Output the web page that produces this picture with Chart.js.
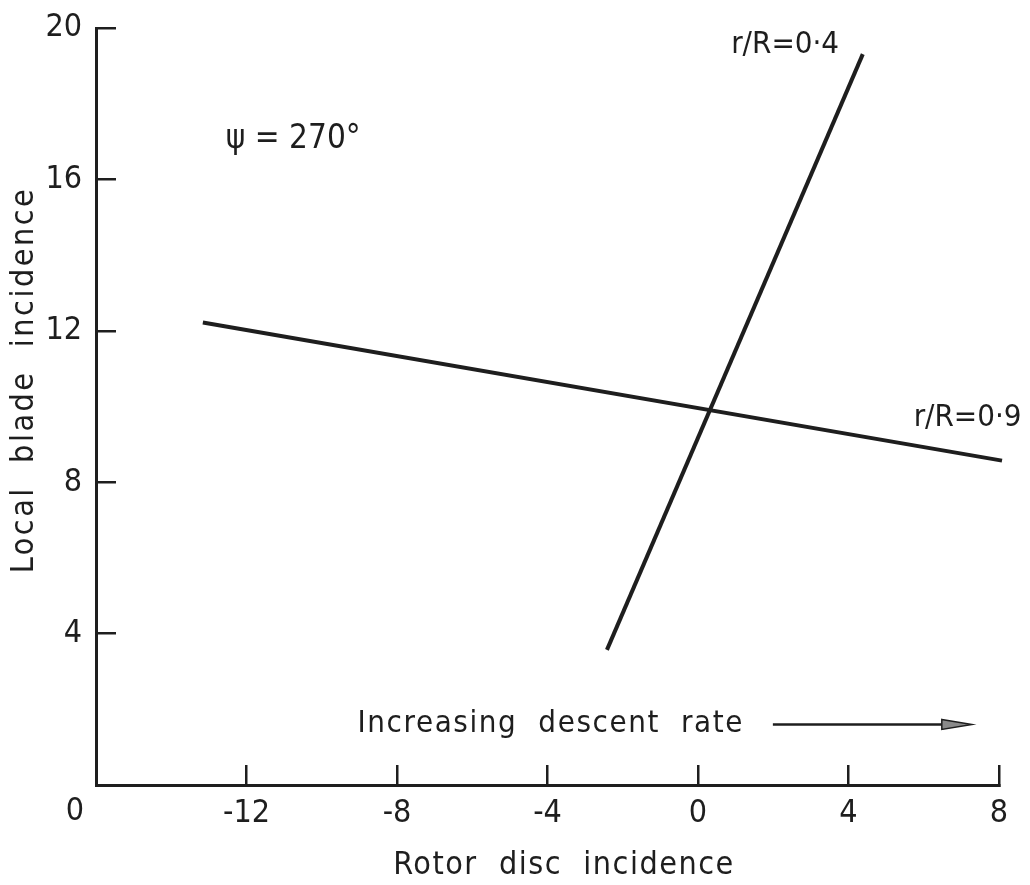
<!DOCTYPE html>
<html>
<head>
<meta charset="utf-8">
<title>Local blade incidence vs rotor disc incidence</title>
<script src="https://cdn.jsdelivr.net/npm/chart.js@4.4.0/dist/chart.umd.min.js"></script>
<style>
  html, body { margin: 0; padding: 0; background: #fff; }
  #wrap { width: 1030px; height: 885px; }
</style>
</head>
<body>
<div id="wrap"><canvas id="c" width="1030" height="885"></canvas></div>
<script>
// Rotor disc incidence (deg), x axis tick values
const xTickValues = [-12, -8, -4, 0, 4, 8];
// Local blade incidence (deg), y axis tick values
const yTickValues = [4, 8, 12, 16, 20];

// Blade station r/R = 0.9
const outerX = [-13.16, 8.08];
const outerY = [12.22, 8.57];
// Blade station r/R = 0.4
const innerX = [-2.42, 4.38];
const innerY = [3.57, 19.31];

const seriesNames = ['r/R=0·9', 'r/R=0·4'];

const FONT = "'Liberation Sans Narrow', 'DejaVu Sans Condensed', Roboto, sans-serif";
const INK = '#1e1e1e';

function toPoints(xs, ys) {
  return xs.map((x, i) => ({ x: x, y: ys[i] }));
}

// Text and the descent-rate arrow, placed in data units through the scales
const notes = {
  id: 'notes',
  afterDraw(chart) {
    const ctx = chart.ctx;
    const xs = chart.scales.x, ys = chart.scales.y;
    const area = chart.chartArea;
    const px = v => xs.getPixelForValue(v);
    const py = v => ys.getPixelForValue(v);
    ctx.save();
    ctx.fillStyle = INK;
    ctx.textBaseline = 'middle';

    // origin label shared by both axes
    ctx.font = '32px ' + FONT;
    ctx.textAlign = 'center';
    ctx.fillText('0', area.left - 21, area.bottom + 27);

    // axis titles
    ctx.font = '32px ' + FONT;
    ctx.letterSpacing = '1.5px';
    ctx.fillText('Rotor  disc  incidence', 564, area.bottom + 81);
    ctx.save();
    ctx.translate(25, 380);
    ctx.rotate(-Math.PI / 2);
    ctx.letterSpacing = '2.5px';
    ctx.fillText('Local  blade  incidence', 0, 0);
    ctx.restore();
    ctx.letterSpacing = '0px';

    // azimuth note
    ctx.font = '33px ' + FONT;
    ctx.textAlign = 'left';
    ctx.fillText('\u03C8 = 270\u00B0', px(-12.55), py(17.05));

    // series labels
    ctx.font = '31px ' + FONT;
    ctx.textAlign = 'right';
    ctx.fillText(seriesNames[1], px(3.75), py(19.55));
    ctx.fillText(seriesNames[0], px(8.6), py(9.7));

    // descent-rate note and arrow
    ctx.textAlign = 'left';
    ctx.font = '31px ' + FONT;
    ctx.letterSpacing = '1.6px';
    ctx.fillText('Increasing  descent  rate', px(-9.05), py(1.6));
    ctx.letterSpacing = '0px';
    const ay = py(1.6);
    const ax0 = px(1.99), ax1 = px(6.48), tip = px(7.28);
    ctx.strokeStyle = INK;
    ctx.lineWidth = 2.5;
    ctx.beginPath();
    ctx.moveTo(ax0, ay);
    ctx.lineTo(ax1 + 2, ay);
    ctx.stroke();
    ctx.beginPath();
    ctx.moveTo(ax1, ay - 5);
    ctx.lineTo(tip, ay);
    ctx.lineTo(ax1, ay + 5);
    ctx.closePath();
    ctx.fillStyle = '#8a8a8a';
    ctx.fill();
    ctx.lineWidth = 1.5;
    ctx.stroke();
    ctx.restore();
  }
};

const lineStyle = {
  borderColor: INK,
  borderWidth: 4,
  pointRadius: 0,
  showLine: true,
  fill: false,
  clip: false
};

new Chart(document.getElementById('c'), {
  type: 'scatter',
  data: {
    datasets: [
      Object.assign({ label: seriesNames[0], data: toPoints(outerX, outerY) }, lineStyle),
      Object.assign({ label: seriesNames[1], data: toPoints(innerX, innerY) }, lineStyle)
    ]
  },
  options: {
    responsive: false,
    animation: false,
    events: [],
    layout: { padding: { top: 28, right: 31, left: 0, bottom: 0 } },
    plugins: { legend: { display: false }, tooltip: { enabled: false } },
    scales: {
      x: {
        type: 'linear',
        min: -16,
        max: 8,
        afterBuildTicks: s => { s.ticks = xTickValues.map(v => ({ value: v })); },
        afterFit: s => { s.height = 100; s.paddingLeft = 0; s.paddingRight = 0; },
        border: { display: true, color: INK, width: 3 },
        grid: { drawOnChartArea: false, drawTicks: true, tickLength: -20, color: INK, lineWidth: 2.5 },
        ticks: { color: INK, padding: 29, font: { family: FONT, size: 32 }, maxRotation: 0, callback: v => String(v) }
      },
      y: {
        type: 'linear',
        min: 0,
        max: 20,
        afterBuildTicks: s => { s.ticks = yTickValues.map(v => ({ value: v })); },
        afterFit: s => { s.width = 96; s.paddingTop = 0; s.paddingBottom = 0; },
        border: { display: true, color: INK, width: 3 },
        grid: { drawOnChartArea: false, drawTicks: true, tickLength: -20, color: INK, lineWidth: 2.5 },
        ticks: { color: INK, padding: 34, font: { family: FONT, size: 32 }, callback: v => String(v) }
      }
    }
  },
  plugins: [notes]
});
</script>
</body>
</html>
